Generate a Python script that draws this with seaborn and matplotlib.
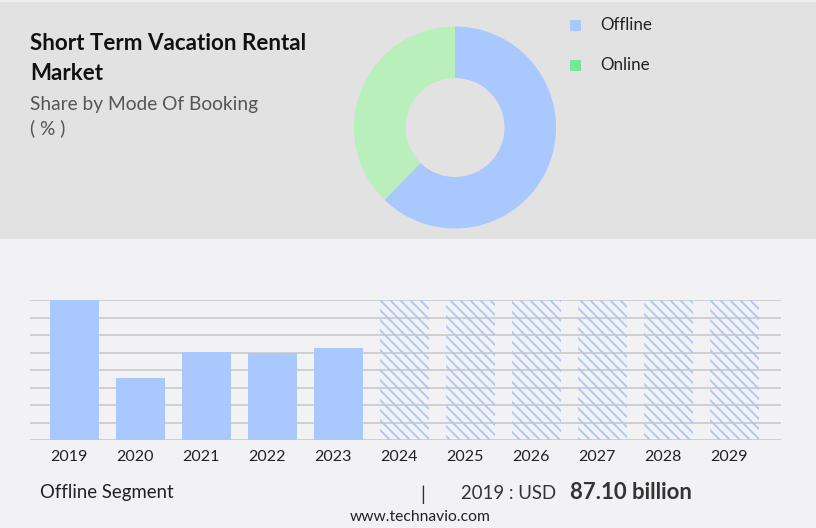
import numpy as np
import pandas as pd
import seaborn as sns
import matplotlib.pyplot as plt
from matplotlib.patches import Rectangle
from matplotlib.transforms import ScaledTranslation

# data
years = ['2019', '2020', '2021', '2022', '2023', '2024', '2025', '2026', '2027', '2028', '2029']
offline_actual = [87.10, 38.8, 54.9, 54.5, 57.4]   # USD billion, 2019-2023
forecast_years = years[5:]                           # hatched placeholder bars
segments = ['Offline', 'Online']
shares = [62.3, 37.7]

BLUE = '#a8c8fe'
GREEN_LEG = '#77e59a'
GREEN_PIE = '#b9efbb'
W, H = 816, 528


def fx(x):
    return x / W


def fy(y):
    return 1 - y / H


sns.set_theme(style='white')
plt.rcParams['font.family'] = ['Lato', 'DejaVu Sans']
plt.rcParams['hatch.linewidth'] = 1.1
plt.rcParams['hatch.color'] = BLUE

fig = plt.figure(figsize=(6.8, 4.4), dpi=120)
fig.patch.set_facecolor('#f2f2f4')

# grey header panel
fig.add_artist(Rectangle((0, fy(239)), 1, 1 - fy(239), transform=fig.transFigure,
                         facecolor='#e2e2e2', edgecolor='none', zorder=0))
fig.add_artist(Rectangle((0, fy(2)), 1, 1 - fy(2), transform=fig.transFigure,
                         facecolor='#efefef', edgecolor='none', zorder=0))

# titles
fig.text(fx(30), fy(49.5), 'Short Term Vacation Rental', fontsize=13.4, fontweight='bold',
         color='#111111', va='baseline')
fig.text(fx(30), fy(80), 'Market', fontsize=13.4, fontweight='bold', color='#111111', va='baseline')
fig.text(fx(30), fy(110), 'Share by Mode Of Booking', fontsize=11.5,
         color='#555555', va='baseline')
fig.text(fx(30), fy(134), '( % )', fontsize=11.5, color='#555555', va='baseline')

# donut
ax_pie = fig.add_axes([fx(354), fy(127.5 + 101), 202 / W, 202 / H])
ax_pie.pie(shares, colors=[BLUE, GREEN_PIE], startangle=90, counterclock=False,
           wedgeprops=dict(width=0.51, linewidth=0))
ax_pie.set_xlim(-1, 1)
ax_pie.set_ylim(-1, 1)
ax_pie.axis('off')

# legend
for i, (seg, col) in enumerate(zip(segments, [BLUE, GREEN_LEG])):
    y0 = 20 + 40 * i
    fig.add_artist(Rectangle((fx(570), fy(y0 + 11)), 11 / W, 11 / H, transform=fig.transFigure,
                             facecolor=col, edgecolor='none'))
    fig.text(fx(600), fy(30 + 40 * i), seg, fontsize=10.2,
             color='#222222', va='baseline')

# bar chart
top = max(offline_actual)
df = pd.DataFrame({
    'year': years,
    'value': offline_actual + [top] * len(forecast_years),
})

ax = fig.add_axes([fx(30), fy(440.3), 751 / W, 140 / H])
ax.set_facecolor('none')
sns.barplot(data=df, x='year', y='value', order=years, color=BLUE, saturation=1,
            width=0.742, linewidth=0, ax=ax)
for bar in ax.patches[len(offline_actual):]:
    bar.set_facecolor('none')
    bar.set_edgecolor(BLUE)
    bar.set_hatch('\\\\\\\\')
    bar.set_linewidth(0)

ax.set_xlim(-0.674, 10.70)
ax.set_ylim(0, top)
ax.set_yticks(np.linspace(0, top, 9))
ax.set_yticklabels([])
ax.grid(axis='y', color='#c6c6c6', linewidth=0.9)
ax.set_axisbelow(True)
ax.tick_params(axis='x', length=0, pad=6, labelsize=9.6, labelcolor='#222222')
ax.tick_params(axis='y', length=0)
shift = ScaledTranslation(-5.5 / 120, 0, fig.dpi_scale_trans)
for lab in ax.get_xticklabels():
    lab.set_transform(lab.get_transform() + shift)
ax.set_xlabel('')
ax.set_ylabel('')
sns.despine(ax=ax, left=True, bottom=True)

# footer
fig.text(fx(40), fy(498), 'Offline Segment', fontsize=11.2,
         color='#222222', va='baseline')
fig.text(fx(423), fy(501), '|', fontsize=12, color='#333333', va='baseline', ha='center')
fig.text(fx(461), fy(499), '2019 : USD', fontsize=11.2,
         color='#333333', va='baseline')
fig.text(fx(570), fy(499), '87.10 billion', fontsize=13.3, fontweight='bold',
         color='#333333', va='baseline')
fig.text(fx(420), fy(521), 'www.technavio.com', fontsize=9.4, color='#222222',
         va='baseline', ha='center')

fig.savefig('out.png', dpi=120, facecolor=fig.get_facecolor())
